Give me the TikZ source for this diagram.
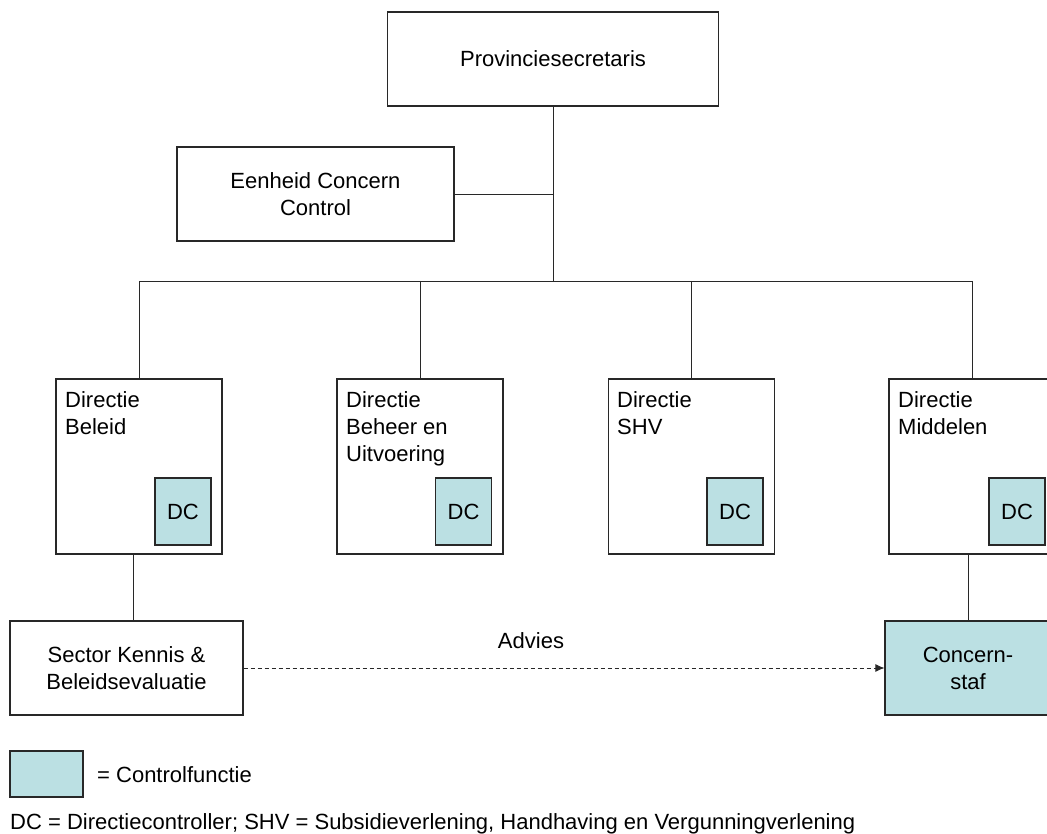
\documentclass[tikz,border=0pt]{standalone}
\usepackage{fontspec}
\setmainfont{Liberation Sans}
\usetikzlibrary{arrows.meta}
\definecolor{ctrl}{RGB}{187,224,227}
\definecolor{ln}{RGB}{40,40,40}
\begin{document}
\begin{tikzpicture}[x=1pt,y=-1pt,
  every node/.style={font=\fontsize{22}{27}\selectfont},
  box/.style={draw=ln,line width=1.1pt,rectangle,inner sep=0pt,align=center},
  dbox/.style={box,minimum width=166,minimum height=175},
  dcbox/.style={box,fill=ctrl,minimum width=56,minimum height=67},
  lbl/.style={inner sep=0pt,align=left,anchor=north west},
  conn/.style={draw=ln,line width=0.9pt}]
\useasboundingbox (0,0) rectangle (1047,834);
\clip (0,0) rectangle (1047,834);
% top
\node[box,minimum width=331,minimum height=94] (ps) at (553,59) {Provinciesecretaris};
\node[box,minimum width=277,minimum height=94] (eh) at (315.5,194) {Eenheid Concern\\Control};
% directies
\node[dbox] (d1) at (139,466.5) {};
\node[dbox] (d2) at (420,466.5) {};
\node[dbox] (d3) at (691.5,466.5) {};
\node[dbox] (d4) at (972,466.5) {};
\node[lbl] (t1) at (65,391) {Directie\\Beleid};
\node[lbl] (t2) at (346,391) {Directie\\Beheer en\\Uitvoering};
\node[lbl] (t3) at (617,391) {Directie\\SHV};
\node[lbl] (t4) at (898,391) {Directie\\Middelen};
\node[dcbox] (dc1) at (183,511.5) {DC};
\node[dcbox] (dc2) at (463.5,511.5) {DC};
\node[dcbox] (dc3) at (735,511.5) {DC};
\node[dcbox] (dc4) at (1017,511.5) {DC};
% bottom row
\node[box,minimum width=233,minimum height=94] (sec) at (126.5,668) {Sector Kennis \&\\Beleidsevaluatie};
\node[box,fill=ctrl,minimum width=166,minimum height=94] (cs) at (968,668) {Concern-\\staf};
% connectors
\coordinate (bar) at (553,281);
\coordinate (bl) at (139,281);
\coordinate (br) at (972,281);
\draw[conn] (ps.south) -- (bar);
\draw[conn] (eh.east) -- (eh.east -| ps.south);
\draw[conn] (bl) -- (br);
\draw[conn] (bl) -- (d1.north);
\draw[conn] (d2.north |- bar) -- (d2.north);
\draw[conn] (d3.north |- bar) -- (d3.north);
\draw[conn] (br) -- (d4.north);
\coordinate (j1) at (133,554);
\draw[conn] (j1) -- (j1 |- sec.north);
\draw[conn] (cs.north |- d4.south) -- (cs.north);
\draw[conn,dash pattern=on 4pt off 3pt,-{Latex[length=9pt,width=8pt]}] (sec.east) -- (cs.west);
\node[inner sep=0pt] (adv) at (531,641) {Advies};
% legend
\node[box,fill=ctrl,minimum width=73,minimum height=46] (leg) at (46.5,774) {};
\node[inner sep=0pt,anchor=west] (legt) at (97,775) {= Controlfunctie};
\node[inner sep=0pt,anchor=base west] (foot) at (10,829) {DC = Directiecontroller; SHV = Subsidieverlening, Handhaving en Vergunningverlening};
\end{tikzpicture}
\end{document}
